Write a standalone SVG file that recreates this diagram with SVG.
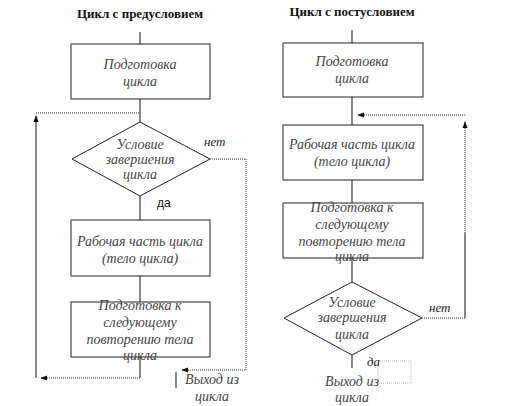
<svg xmlns="http://www.w3.org/2000/svg" width="517" height="406" viewBox="0 0 517 406">
<defs>
<style>
.title{font-family:'Liberation Serif','Times New Roman','DejaVu Serif',serif;font-weight:bold;font-size:13px;fill:#111;text-anchor:middle}
.t{font-family:'Liberation Serif','Times New Roman','DejaVu Serif',serif;font-style:italic;font-size:14px;fill:#444;text-anchor:middle}
.lbl{font-family:'Liberation Serif','Times New Roman','DejaVu Serif',serif;font-style:italic;font-size:13px;fill:#222}
.shape{fill:#fff;stroke:#222;stroke-width:1}
.ln{fill:none;stroke:#111;stroke-width:1}
.dot{fill:none;stroke:#333;stroke-width:1;stroke-dasharray:1 1}
</style>
<marker id="ah" viewBox="0 0 8 8" refX="7" refY="4" markerWidth="7" markerHeight="7" orient="auto" markerUnits="userSpaceOnUse">
<path d="M0,1 L8,4 L0,7 Z" fill="#111"/>
</marker>
</defs>
<rect width="517" height="406" fill="#fff"/>
<text class="title" x="140" y="18">Цикл с предусловием</text>
<text class="title" x="352" y="16">Цикл с постусловием</text>

<g id="connectors">
<path class="ln" d="M140,32 V44"/>
<path class="ln" d="M140,99 V122"/>
<path class="ln" d="M140,196 V220"/>
<path class="ln" d="M140,276 V302"/>
<path class="ln" d="M140,357 V378"/>
<path class="dot" d="M140,378 H41" marker-end="url(#ah)"/>
<path class="ln" d="M36,378 V116" marker-end="url(#ah)"/>
<path class="dot" d="M36,113 H140"/>
<path class="dot" d="M210,159 H246 V370 H182" marker-end="url(#ah)"/>
<path class="ln" d="M176,372 V388"/>
<path class="ln" d="M352,30 V44"/>
<path class="ln" d="M352,97 V125"/>
<path class="ln" d="M352,180 V203"/>
<path class="ln" d="M352,258 V282"/>
<path class="ln" d="M352,355 V368"/>
<path class="dot" d="M422,318 H465"/>
<path class="ln" d="M465,318 V233"/>
<path class="dot" d="M465,233 V122" marker-end="url(#ah)"/>
<path class="dot" d="M465,115 H358" marker-end="url(#ah)"/>
<rect x="378" y="361" width="33" height="22" fill="none" stroke="#bbb" stroke-width="1" stroke-dasharray="1 1"/>
</g>

<g id="l-prep">
<rect class="shape" x="71" y="44" width="139" height="55"/>
<text class="t" x="140" y="69">Подготовка</text>
<text class="t" x="140" y="86">цикла</text>
</g>
<g id="l-cond">
<polygon class="shape" points="140,122 210,159 140,196 72,159"/>
<text class="t" x="140" y="149">Условие</text>
<text class="t" x="140" y="164">завершения</text>
<text class="t" x="140" y="179">цикла</text>
</g>
<g id="l-body">
<rect class="shape" x="71" y="220" width="139" height="56"/>
<text class="t" x="140" y="246">Рабочая часть цикла</text>
<text class="t" x="140" y="263">(тело цикла)</text>
</g>
<g id="l-next">
<rect class="shape" x="71" y="302" width="139" height="55"/>
<text class="t" x="140" y="310">Подготовка к</text>
<text class="t" x="140" y="327">следующему</text>
<text class="t" x="140" y="344">повторению тела</text>
<text class="t" x="140" y="360">цикла</text>
</g>
<g id="l-labels">
<text class="lbl" x="204" y="146">нет</text>
<text x="157" y="207" font-family="'Liberation Sans',Arial,sans-serif" font-size="12" fill="#111">да</text>
<text class="t" x="212" y="384">Выход из</text>
<text class="t" x="212" y="401">цикла</text>
</g>

<g id="r-prep">
<rect class="shape" x="283" y="43" width="140" height="54"/>
<text class="t" x="352" y="66">Подготовка</text>
<text class="t" x="352" y="83">цикла</text>
</g>
<g id="r-body">
<rect class="shape" x="283" y="125" width="140" height="55"/>
<text class="t" x="352" y="149">Рабочая часть цикла</text>
<text class="t" x="352" y="166">(тело цикла)</text>
</g>
<g id="r-next">
<rect class="shape" x="283" y="203" width="140" height="55"/>
<text class="t" x="352" y="212">Подготовка к</text>
<text class="t" x="352" y="229">следующему</text>
<text class="t" x="352" y="246">повторению тела</text>
<text class="t" x="352" y="261">цикла</text>
</g>
<g id="r-cond">
<polygon class="shape" points="352,282 422,318 352,355 284,318"/>
<text class="t" x="352" y="307">Условие</text>
<text class="t" x="352" y="322">завершения</text>
<text class="t" x="352" y="339">цикла</text>
</g>
<g id="r-labels">
<text class="lbl" x="429" y="312">нет</text>
<text class="lbl" x="367" y="366">да</text>
<text class="t" x="352" y="386">Выход из</text>
<text class="t" x="352" y="402">цикла</text>
</g>
</svg>
